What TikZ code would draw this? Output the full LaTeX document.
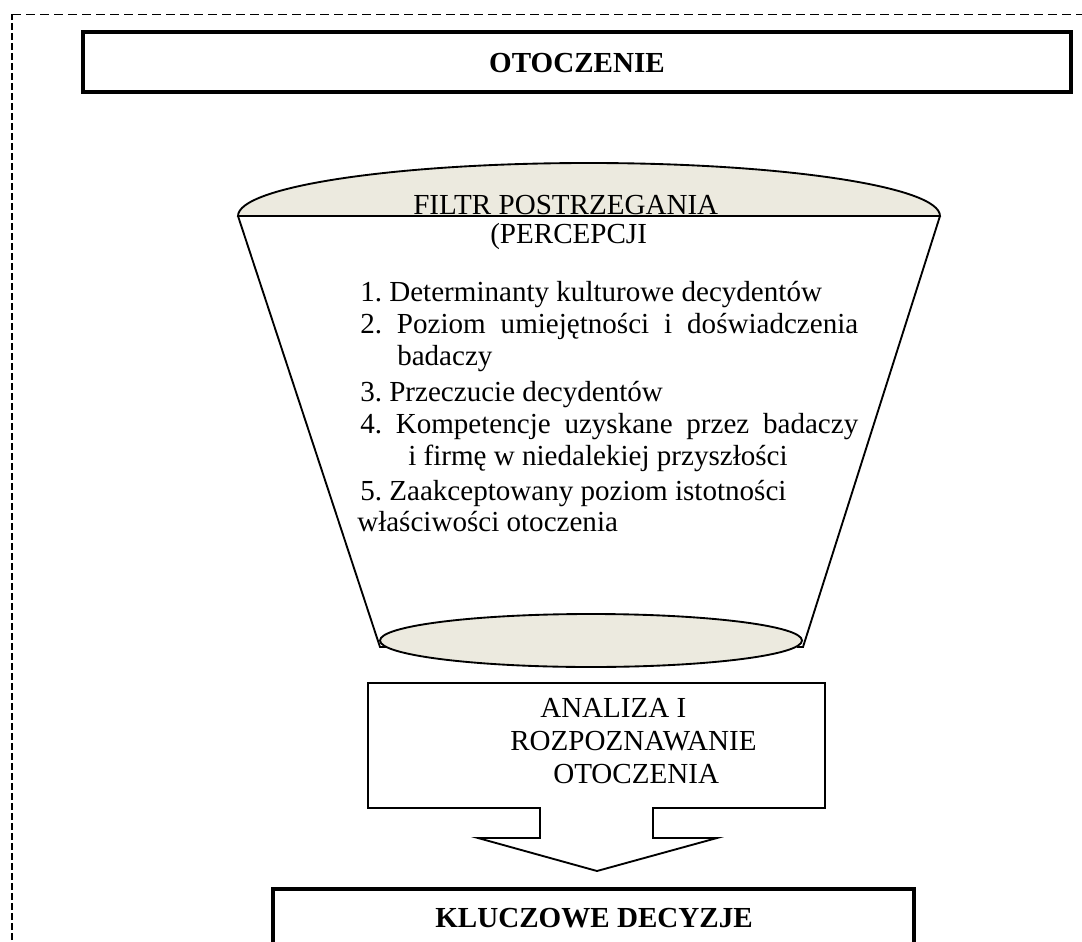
\documentclass[tikz,border=0pt]{standalone}
\usepackage{fontspec}
\setmainfont{Liberation Serif}
\definecolor{beige}{RGB}{236,234,223}
\frenchspacing
\begin{document}
\begin{tikzpicture}[x=0.75pt,y=-0.75pt,
  txt/.style={anchor=base west,inner sep=0pt,font=\fontsize{21.8}{26}\selectfont},
  btxt/.style={anchor=base,inner sep=0pt,font=\fontsize{21.8}{26}\selectfont\bfseries},
  heavybox/.style={draw,line width=3pt},
  thinline/.style={draw,line width=1.4pt},
  frameline/.style={line width=1.1pt}
  ]
\useasboundingbox (0,0) rectangle (1082,942);
\clip (0,0) rectangle (1082,942);
% dashed frame
\coordinate (fTL) at (12,14.5);
\coordinate (fBL) at (12,950);
\coordinate (fTR) at (1090,14.5);
\draw[frameline, dash pattern=on 4.9pt off 2.6pt] (fBL) -- (fTL);
\draw[frameline, dash pattern=on 6.4pt off 4.1pt] (fTL) -- (fTR);
% OTOCZENIE box
\draw[heavybox] (83,32) rectangle (1071,92);
\node[btxt] (oto) at (577,73) {OTOCZENIE};
% funnel
\coordinate (tl) at (238,216);
\coordinate (tr) at (940,216);
\coordinate (bl) at (380,647);
\coordinate (br) at (803,647);
\draw[thinline] (tl) -- (bl) -- ++(6,0);
\draw[thinline] (tr) -- (br) -- ++(-6,0);
\draw[thinline, fill=beige] (tl) arc[start angle=180,end angle=360,x radius=351,y radius=53] -- cycle;
\draw[thinline, fill=beige] (591,640.5) ellipse [x radius=211, y radius=26.5];
\node[txt] (filtr) at (413,214) {FILTR POSTRZEGANIA};
\node[txt] (perc) at (490,243) {(PERCEPCJI};
% list
\node[txt] (l1) at (360,301.7) {1. Determinanty kulturowe decydentów};
\node[txt] (l2) at (360,333) {\makebox[373.5pt][s]{2. Poziom umiejętności i doświadczenia}};
\node[txt] (l2b) at (397,365) {badaczy};
\node[txt] (l3) at (360,401.7) {3. Przeczucie decydentów};
\node[txt] (l4) at (360,433) {\makebox[373.5pt][s]{4. Kompetencje uzyskane przez badaczy}};
\node[txt] (l4b) at (408,465) {i firmę w niedalekiej przyszłości};
\node[txt] (l5) at (360,500) {5. Zaakceptowany poziom istotności};
\node[txt] (l5b) at (357,531.7) {właściwości otoczenia};
% arrow callout
\draw[thinline] (368,683) -- (825,683) -- (825,808) -- (653,808) -- (653,838) -- (717,838)
  -- (597,871) -- (478,838) -- (540,838) -- (540,808) -- (368,808) -- cycle;
\node[txt] (a1) at (540,717) {ANALIZA I};
\node[txt] (a2) at (510,750) {ROZPOZNAWANIE};
\node[txt] (a3) at (553,783) {OTOCZENIA};
% KLUCZOWE DECYZJE box
\draw[heavybox] (273,889) rectangle (914,990);
\node[btxt] (klu) at (594,927) {KLUCZOWE DECYZJE};
\end{tikzpicture}
\end{document}
